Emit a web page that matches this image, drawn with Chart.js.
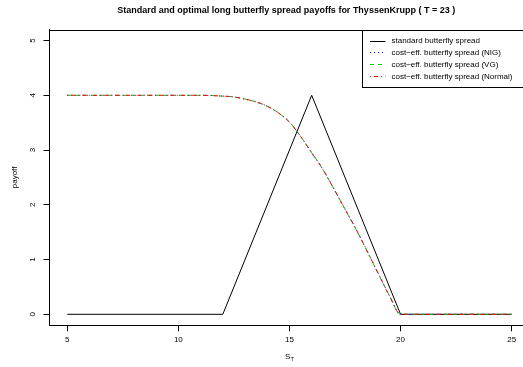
<!DOCTYPE html>
<html>
<head>
<meta charset="utf-8">
<script src="https://cdn.jsdelivr.net/npm/chart.js@4/dist/chart.umd.min.js"></script>
<style>
  html, body { margin: 0; padding: 0; background: #ffffff; overflow: hidden; }
  #wrap { width: 523px; height: 367px; position: relative; }
</style>
</head>
<body>
<div id="wrap"><canvas id="c" width="523" height="367"></canvas></div>
<script>
// Terminal stock price S_T and payoffs
const standardX = [5, 12, 16, 20, 25];
const standardPayoff = [0, 0, 4, 0, 0];

const costEffX = [5, 6, 7, 8, 9, 10, 11, 12, 12.5, 13, 13.5, 14, 14.5, 15, 15.5, 16, 16.5, 17, 17.5, 18, 18.5, 19, 19.5, 20, 21, 22, 23, 24, 25];
const nigPayoff    = [4, 4, 4, 4, 4, 4, 4, 3.985, 3.97, 3.93, 3.88, 3.80, 3.68, 3.51, 3.25, 2.95, 2.65, 2.29, 1.92, 1.55, 1.15, 0.74, 0.34, 0, 0, 0, 0, 0, 0];
const vgPayoff     = [4, 4, 4, 4, 4, 4, 4, 3.985, 3.97, 3.93, 3.88, 3.80, 3.68, 3.51, 3.25, 2.95, 2.65, 2.29, 1.92, 1.55, 1.15, 0.74, 0.34, 0, 0, 0, 0, 0, 0];
const normalPayoff = [4, 4, 4, 4, 4, 4, 4, 3.985, 3.97, 3.93, 3.88, 3.80, 3.68, 3.51, 3.25, 2.95, 2.65, 2.29, 1.92, 1.55, 1.15, 0.74, 0.34, 0, 0, 0, 0, 0, 0];

const xTicks = [5, 10, 15, 20, 25];
const yTicks = [0, 1, 2, 3, 4, 5];

const seriesNames = [
  'standard butterfly spread',
  'cost\u2212eff. butterfly spread (NIG)',
  'cost\u2212eff. butterfly spread (VG)',
  'cost\u2212eff. butterfly spread (Normal)'
];
const seriesColors = ['#000000', '#0000ff', '#00cd00', '#ff0000'];
const seriesDashes = [[], [1, 3], [4, 4], [1, 3, 4, 3]];

const FONT = '"Liberation Sans", Arial, Helvetica, sans-serif';

function pts(xs, ys) { return xs.map((x, i) => ({ x: x, y: ys[i] })); }

// Frame, subscripted x-axis title and the legend box
const decorations = {
  id: 'decorations',
  afterDraw(chart) {
    const { ctx, chartArea, scales } = chart;
    ctx.save();
    // top edge of the plot box
    ctx.strokeStyle = '#000';
    ctx.lineWidth = 1;
    ctx.beginPath();
    ctx.moveTo(chartArea.left, Math.round(chartArea.top) + 0.5);
    ctx.lineTo(chartArea.right + 10, Math.round(chartArea.top) + 0.5);
    ctx.stroke();

    // x-axis title: S with subscript T
    const cx = scales.x.getPixelForValue(15);
    ctx.fillStyle = '#000';
    ctx.textBaseline = 'alphabetic';
    ctx.font = '8px ' + FONT;
    const wS = ctx.measureText('S').width;
    ctx.font = '5.5px ' + FONT;
    const wT = ctx.measureText('T').width;
    const x0 = cx - (wS + wT) / 2;
    ctx.font = '8px ' + FONT;
    ctx.textAlign = 'left';
    ctx.fillText('S', x0, 359);
    ctx.font = '5.5px ' + FONT;
    ctx.fillText('T', x0 + wS, 361);

    // legend
    const lx = 362.5;
    const ly = Math.round(chartArea.top) + 0.5;
    const lh = 57;
    ctx.fillStyle = '#fff';
    ctx.fillRect(lx, ly, 200, lh);
    ctx.strokeStyle = '#000';
    ctx.strokeRect(lx, ly, 200, lh);
    ctx.font = '8px ' + FONT;
    ctx.textBaseline = 'middle';
    seriesNames.forEach((name, i) => {
      const y = 40.5 + i * 11.8;
      ctx.strokeStyle = seriesColors[i];
      ctx.setLineDash(seriesDashes[i]);
      ctx.beginPath();
      ctx.moveTo(370, Math.round(y) + 0.5);
      ctx.lineTo(385.5, Math.round(y) + 0.5);
      ctx.stroke();
      ctx.setLineDash([]);
      ctx.fillStyle = '#000';
      ctx.fillText(name, 391.5, y + 0.5);
    });
    ctx.restore();
  }
};

new Chart(document.getElementById('c'), {
  type: 'line',
  data: {
    datasets: [
      { label: seriesNames[0], data: pts(standardX, standardPayoff), borderColor: seriesColors[0], borderDash: seriesDashes[0], borderWidth: 1, pointRadius: 0, tension: 0, order: 4 },
      { label: seriesNames[1], data: pts(costEffX, nigPayoff), borderColor: seriesColors[1], borderDash: seriesDashes[1], borderWidth: 1, pointRadius: 0, cubicInterpolationMode: 'monotone', order: 3 },
      { label: seriesNames[2], data: pts(costEffX, vgPayoff), borderColor: seriesColors[2], borderDash: seriesDashes[2], borderWidth: 1, pointRadius: 0, cubicInterpolationMode: 'monotone', order: 2 },
      { label: seriesNames[3], data: pts(costEffX, normalPayoff), borderColor: seriesColors[3], borderDash: seriesDashes[3], borderWidth: 1, pointRadius: 0, cubicInterpolationMode: 'monotone', order: 1 }
    ]
  },
  options: {
    responsive: false,
    animation: false,
    events: [],
    layout: { padding: 0 },
    plugins: {
      legend: { display: false },
      tooltip: { enabled: false },
      title: {
        display: true,
        fullSize: false,
        text: 'Standard and optimal long butterfly spread payoffs for ThyssenKrupp ( T = 23 )',
        color: '#000',
        font: { family: FONT, size: 9, weight: 'bold', lineHeight: 1.2 },
        padding: { top: 5.6, bottom: 13.2 }
      }
    },
    scales: {
      x: {
        type: 'linear',
        min: 4.2,
        max: 25.51,
        afterBuildTicks: s => { s.ticks = xTicks.map(v => ({ value: v })); },
        afterFit: s => { s.height = 41.75; },
        grid: { display: true, drawOnChartArea: false, drawTicks: true, tickLength: 6, tickColor: '#000', lineWidth: 1 },
        border: { display: true, color: '#000', width: 1 },
        ticks: { color: '#000', font: { family: FONT, size: 8 }, padding: 3.5, maxRotation: 0, autoSkip: false },
        title: { display: false }
      },
      y: {
        type: 'linear',
        min: -0.2,
        max: 5.2,
        afterBuildTicks: s => { s.ticks = yTicks.map(v => ({ value: v })); },
        afterFit: s => { s.width = 49.5; },
        grid: { display: true, drawOnChartArea: false, drawTicks: true, tickLength: 6, tickColor: '#000', lineWidth: 1 },
        border: { display: true, color: '#000', width: 1 },
        ticks: { color: '#000', font: { family: FONT, size: 8 }, padding: 8, minRotation: 90, maxRotation: 90, crossAlign: 'center', autoSkip: false },
        title: { display: true, text: 'payoff', color: '#000', font: { family: FONT, size: 8 }, padding: { top: 10.2, bottom: 0 } }
      }
    }
  },
  plugins: [decorations]
});
</script>
</body>
</html>
